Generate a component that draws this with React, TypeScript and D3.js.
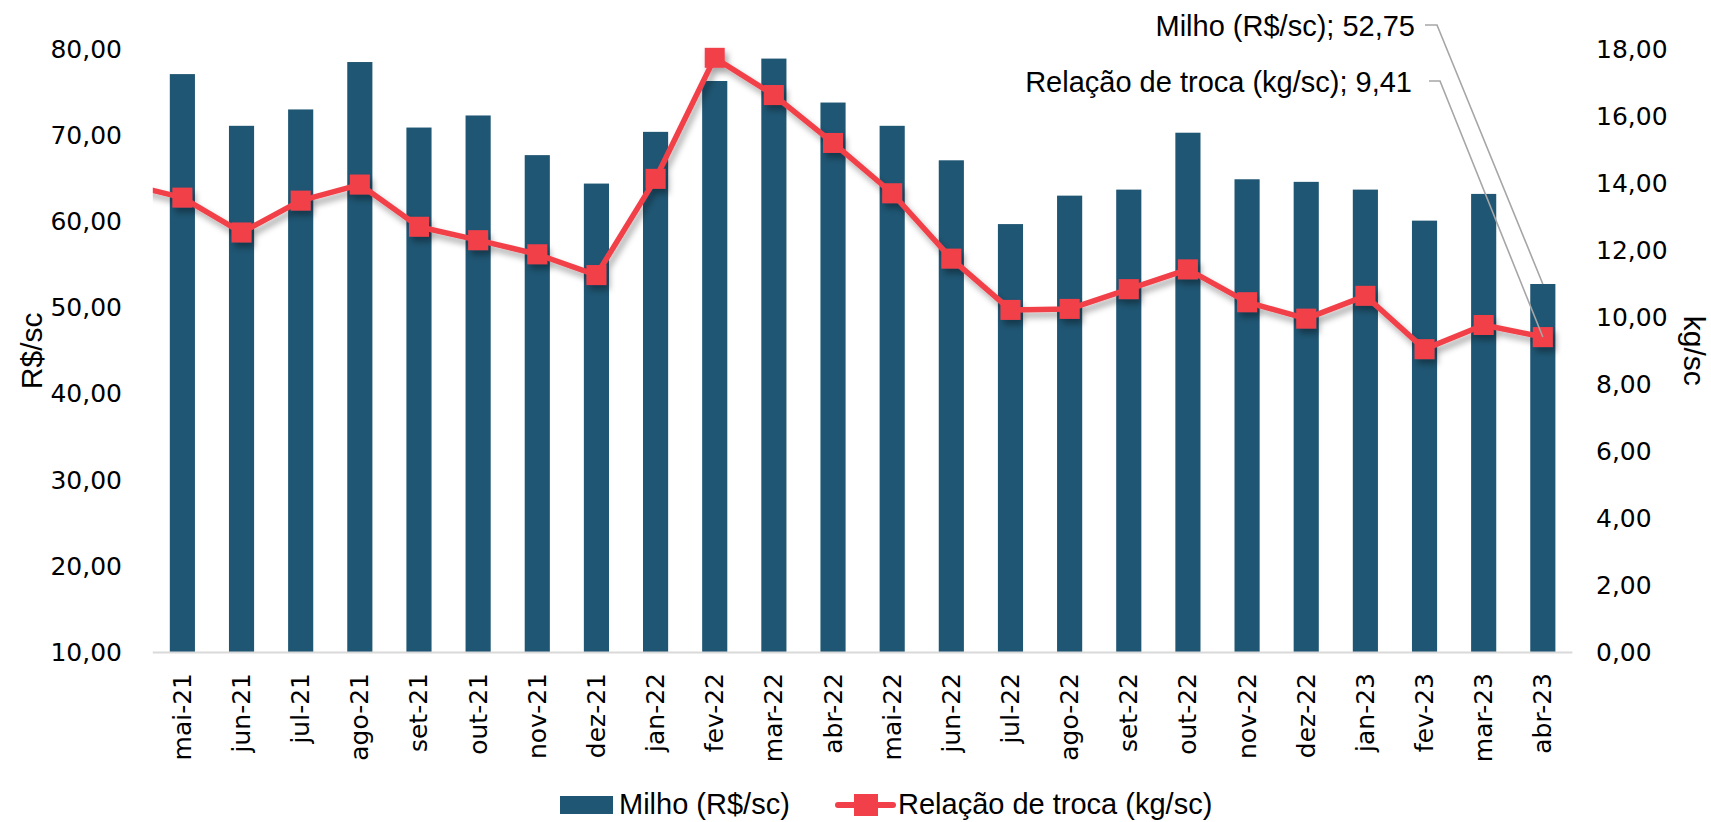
import React from 'react';
import * as d3 from 'd3';

const categories = [
  'mai-21', 'jun-21', 'jul-21', 'ago-21', 'set-21', 'out-21', 'nov-21', 'dez-21',
  'jan-22', 'fev-22', 'mar-22', 'abr-22', 'mai-22', 'jun-22', 'jul-22', 'ago-22',
  'set-22', 'out-22', 'nov-22', 'dez-22', 'jan-23', 'fev-23', 'mar-23', 'abr-23',
];

// Milho (R$/sc) – left axis
const milho = [
  77.1, 71.1, 73.0, 78.5, 70.9, 72.3, 67.7, 64.4,
  70.4, 76.3, 78.9, 73.8, 71.1, 67.1, 59.7, 63.0,
  63.7, 70.3, 64.9, 64.6, 63.7, 60.1, 63.2, 52.75,
];

// Relação de troca (kg/sc) – right axis
const relacao = [
  13.57, 12.53, 13.48, 13.96, 12.70, 12.30, 11.88, 11.26,
  14.13, 17.74, 16.63, 15.20, 13.70, 11.75, 10.22, 10.25,
  10.84, 11.43, 10.45, 9.96, 10.64, 9.05, 9.77, 9.41,
];
// previous month (abr-21), outside the visible category range
const relacaoPrev = 14.0;

const leftTicks = [10, 20, 30, 40, 50, 60, 70, 80];
const rightTicks = [0, 2, 4, 6, 8, 10, 12, 14, 16, 18];

const seriesNames = ['Milho (R$/sc)', 'Relação de troca (kg/sc)'];

const locale = d3.formatLocale({ decimal: ',', thousands: '.', grouping: [3], currency: ['R$', ''] });
const fmt = locale.format(',.2f');

const BAR = '#1F5673';
const RED = '#F2404A';
const TICKFONT = "'DejaVu Sans', Verdana, sans-serif";
const TEXTFONT = "'Liberation Sans', Arial, sans-serif";

export default function App() {
  const W = 1711;
  const H = 822;
  const left = 152.8;
  const right = 1572.4;
  const top = 49.1;
  const bottom = 652.5;

  const x = d3
    .scaleBand<string>()
    .domain(categories)
    .range([left, right])
    .paddingInner(0.575)
    .paddingOuter(0.2875);
  const step = x.step();
  const cx = (c: string) => (x(c) as number) + x.bandwidth() / 2;

  const yL = d3.scaleLinear().domain([10, 80]).range([bottom, top]);
  const yR = d3.scaleLinear().domain([0, 18]).range([bottom, top]);

  const linePts: [number, number][] = [
    [cx(categories[0]) - step, yR(relacaoPrev)],
    ...categories.map((c, i) => [cx(c), yR(relacao[i])] as [number, number]),
  ];
  const lineGen = d3.line();

  const last = categories.length - 1;
  const lastX = cx(categories[last]);
  const milhoLast = milho[last];
  const relLast = relacao[last];

  return (
    <div style={{ position: 'absolute', left: 0, top: 0 }}>
      <svg width={W} height={H} style={{ display: 'block' }}>
        <defs>
          <clipPath id="plotclip">
            <rect x={left} y={0} width={right - left} height={H} />
          </clipPath>
          <filter id="shadow" x="-10%" y="-10%" width="120%" height="130%">
            <feDropShadow dx="3" dy="5" stdDeviation="3" floodColor="#000" floodOpacity="0.35" />
          </filter>
        </defs>
        <rect x={0} y={0} width={W} height={H} fill="#fff" />

        {/* bars */}
        {categories.map((c, i) => (
          <rect
            key={c}
            x={x(c)}
            y={yL(milho[i])}
            width={x.bandwidth()}
            height={yL(10) - yL(milho[i])}
            fill={BAR}
          />
        ))}

        {/* baseline */}
        <line x1={left} x2={right} y1={bottom} y2={bottom} stroke="#D9D9D9" strokeWidth={2} />

        {/* line series */}
        <g clipPath="url(#plotclip)">
          <g filter="url(#shadow)">
            <path d={lineGen(linePts) || ''} fill="none" stroke={RED} strokeWidth={5.5} strokeLinejoin="round" />
            {categories.map((c, i) => (
              <rect key={c} x={cx(c) - 10} y={yR(relacao[i]) - 10} width={20} height={20} fill={RED} />
            ))}
          </g>
        </g>

        {/* left ticks */}
        {leftTicks.map((t) => (
          <text
            key={t}
            x={122}
            y={yL(t)}
            textAnchor="end"
            dominantBaseline="central"
            fontFamily={TICKFONT}
            fontSize={25}
            fill="#000"
          >
            {fmt(t)}
          </text>
        ))}
        {/* right ticks */}
        {rightTicks.map((t) => (
          <text
            key={t}
            x={1596}
            y={yR(t)}
            textAnchor="start"
            dominantBaseline="central"
            fontFamily={TICKFONT}
            fontSize={25}
            fill="#000"
          >
            {fmt(t)}
          </text>
        ))}

        {/* category labels */}
        {categories.map((c) => (
          <text
            key={c}
            transform={`translate(${cx(c)},${673}) rotate(-90)`}
            textAnchor="end"
            dominantBaseline="central"
            fontFamily={TICKFONT}
            fontSize={25}
            fill="#000"
          >
            {c}
          </text>
        ))}

        {/* axis titles */}
        <text
          transform={`translate(31,${(top + bottom) / 2}) rotate(-90)`}
          textAnchor="middle"
          dominantBaseline="central"
          fontFamily={TEXTFONT}
          fontSize={30}
          fill="#000"
        >
          R$/sc
        </text>
        <text
          transform={`translate(1694,${(top + bottom) / 2}) rotate(90)`}
          textAnchor="middle"
          dominantBaseline="central"
          fontFamily={TEXTFONT}
          fontSize={30}
          fill="#000"
        >
          kg/sc
        </text>

        {/* data callouts */}
        <text x={1415} y={36} textAnchor="end" fontFamily={TEXTFONT} fontSize={29} fill="#000">
          {`${seriesNames[0]}; ${fmt(milhoLast)}`}
        </text>
        <text x={1412} y={92} textAnchor="end" fontFamily={TEXTFONT} fontSize={29} fill="#000">
          {`${seriesNames[1]}; ${fmt(relLast)}`}
        </text>
        <path
          d={`M1425,25 H1437 L${lastX},${yL(milhoLast)}`}
          fill="none"
          stroke="#A6A6A6"
          strokeWidth={1.6}
        />
        <path
          d={`M1429,81 H1440 L${lastX},${yR(relLast)}`}
          fill="none"
          stroke="#A6A6A6"
          strokeWidth={1.6}
        />

        {/* legend */}
        <rect x={560} y={796} width={53} height={18} fill={BAR} />
        <text x={619} y={814} fontFamily={TEXTFONT} fontSize={29} fill="#000">
          {seriesNames[0]}
        </text>
        <line x1={838} x2={893} y1={805} y2={805} stroke={RED} strokeWidth={6} strokeLinecap="round" />
        <rect x={854} y={794} width={24} height={22} fill={RED} />
        <text x={898} y={814} fontFamily={TEXTFONT} fontSize={29} fill="#000">
          {seriesNames[1]}
        </text>
      </svg>
    </div>
  );
}
